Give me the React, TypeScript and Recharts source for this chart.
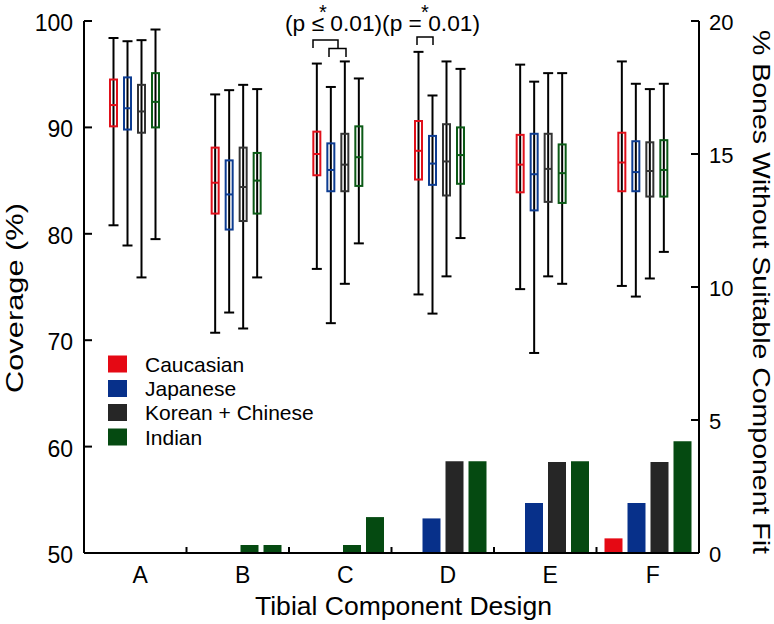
import React from "react";
import { ComposedChart, Bar, XAxis, YAxis, Cell } from "recharts";

const CATEGORIES = ["A", "B", "C", "D", "E", "F"];

// coverage (%) per design: [min, q1, median, q3, max]
const CAUCASIAN_BOX = [
    [80.8, 90.1, 92.1, 94.5, 98.4],
    [70.7, 81.9, 84.8, 88.1, 93.1],
    [76.7, 85.5, 87.5, 89.6, 96.0],
    [74.3, 85.1, 87.8, 90.6, 97.1],
    [74.8, 83.9, 86.5, 89.3, 95.9],
    [75.1, 84.0, 86.7, 89.5, 96.2],
];
const JAPANESE_BOX = [
    [78.9, 89.8, 91.8, 94.7, 98.1],
    [72.6, 80.4, 83.7, 86.9, 93.5],
    [71.6, 84.0, 86.0, 88.5, 93.8],
    [72.5, 84.6, 86.6, 89.2, 93.0],
    [68.8, 82.2, 85.6, 89.4, 94.3],
    [74.1, 84.0, 85.8, 88.7, 94.1],
];
const KOREAN_BOX = [
    [75.9, 89.5, 91.5, 94.0, 98.2],
    [71.1, 81.2, 84.4, 88.1, 94.0],
    [75.3, 84.0, 86.5, 89.4, 96.2],
    [76.0, 83.6, 86.8, 90.3, 96.2],
    [76.0, 83.0, 86.1, 89.4, 95.1],
    [75.8, 83.5, 85.9, 88.6, 93.6],
];
const INDIAN_BOX = [
    [79.5, 90.0, 92.4, 95.1, 99.2],
    [75.9, 81.9, 85.0, 87.6, 93.6],
    [79.1, 84.5, 87.2, 90.1, 94.6],
    [79.6, 84.7, 87.4, 90.0, 95.5],
    [75.3, 82.9, 85.7, 88.4, 95.1],
    [78.3, 83.5, 86.0, 88.8, 94.1],
];

// % bones without suitable component fit
const CAUCASIAN_MISFIT = [0, 0, 0, 0, 0, 0.55];
const JAPANESE_MISFIT = [0, 0, 0, 1.3, 1.88, 1.88];
const KOREAN_MISFIT = [0, 0.3, 0.3, 3.45, 3.42, 3.42];
const INDIAN_MISFIT = [0, 0.3, 1.35, 3.45, 3.45, 4.2];

const COVERAGE_TICKS = [50, 60, 70, 80, 90, 100];
const MISFIT_TICKS = [0, 5, 10, 15, 20];

const FONT = "'Liberation Sans', Arial, sans-serif";

const GROUPS = [
    { key: "cau", name: "Caucasian", box: CAUCASIAN_BOX, misfit: CAUCASIAN_MISFIT, line: "#e0101a", fill: "#e50914" },
    { key: "jap", name: "Japanese", box: JAPANESE_BOX, misfit: JAPANESE_MISFIT, line: "#0d3c91", fill: "#07308a" },
    { key: "kor", name: "Korean + Chinese", box: KOREAN_BOX, misfit: KOREAN_MISFIT, line: "#333333", fill: "#262626" },
    { key: "ind", name: "Indian", box: INDIAN_BOX, misfit: INDIAN_MISFIT, line: "#0b5a16", fill: "#054a11" },
];

// the source figure draws the small Korean + Chinese bars in B and C in green
const KOREAN_BAR_FILLS = ["#262626", "#054a11", "#054a11", "#262626", "#262626", "#262626"];

const data = CATEGORIES.map((cat, i) => {
    const row: any = { cat };
    GROUPS.forEach((g) => {
        row[g.key + "Box"] = g.box[i];
        row[g.key + "Pct"] = g.misfit[i];
    });
    return row;
});

function BoxShape(props: any) {
    const { x, y, width, height, payload, boxKey, color } = props;
    const s = payload[boxKey];
    const top = Math.min(y, y + height);
    const h = Math.abs(height);
    const k = h / (s[4] - s[0]);
    const py = (v: number) => top + (s[4] - v) * k;
    const cx = x + width / 2;
    const cap = 5;
    return (
        <g>
            <line x1={cx} x2={cx} y1={py(s[4])} y2={py(s[0])} stroke="#000" strokeWidth={2} />
            <line x1={cx - cap} x2={cx + cap} y1={py(s[4])} y2={py(s[4])} stroke="#000" strokeWidth={2} />
            <line x1={cx - cap} x2={cx + cap} y1={py(s[0])} y2={py(s[0])} stroke="#000" strokeWidth={2} />
            <rect x={x + 1} y={py(s[3])} width={width - 2} height={py(s[1]) - py(s[3])} fill="none" stroke={color} strokeWidth={2} />
            <line x1={x + 1} x2={x + width - 1} y1={py(s[2])} y2={py(s[2])} stroke={color} strokeWidth={2} />
        </g>
    );
}

function LeftTick({ x, y, payload }: any) {
    return (
        <g>
            <line x1={x} x2={x + 8} y1={y} y2={y} stroke="#000" strokeWidth={2} />
            <text x={x - 11} y={y} dy={10} textAnchor="end" fontSize={23} fontFamily={FONT} fill="#000">
                {payload.value}
            </text>
        </g>
    );
}

function RightTick({ x, y, payload }: any) {
    return (
        <g>
            <line x1={x - 8} x2={x} y1={y} y2={y} stroke="#000" strokeWidth={2} />
            <text x={x + 10} y={y} dy={9} textAnchor="start" fontSize={22} fontFamily={FONT} fill="#000">
                {payload.value}
            </text>
        </g>
    );
}

function BottomTick({ x, y, payload, index }: any) {
    const half = payload && payload.offset ? payload.offset : 0;
    return (
        <g>
            {index < CATEGORIES.length - 1 && half > 0 && (
                <line x1={x + half} x2={x + half} y1={y} y2={y - 6} stroke="#000" strokeWidth={2} />
            )}
            <text x={x + 5} y={y} dy={30} textAnchor="middle" fontSize={23} fontFamily={FONT} fill="#000">
                {payload.value}
            </text>
        </g>
    );
}

const LEGEND_ROWS = [364, 388.5, 412.5, 437];

export default function App() {
    return (
        <div style={{ position: "absolute", left: 0, top: 0, width: 774, height: 624, background: "#fff", fontFamily: FONT }}>
            <ComposedChart
                width={774}
                height={624}
                data={data}
                margin={{ top: 21, right: 0, bottom: 0, left: 0 }}
                barGap={5}
            >
                <XAxis xAxisId="box" dataKey="cat" hide orientation="top" height={0} padding={{ left: 0, right: 5 }} />
                <XAxis
                    xAxisId="pct"
                    dataKey="cat"
                    height={71}
                    interval={0}
                    axisLine={{ stroke: "#000", strokeWidth: 2 }}
                    tickLine={false}
                    tickSize={0}
                    tickMargin={0}
                    tick={(p: any) => <BottomTick {...p} />}
                />
                <YAxis
                    yAxisId="cov"
                    orientation="left"
                    domain={[50, 100]}
                    ticks={COVERAGE_TICKS}
                    interval={0}
                    width={84}
                    axisLine={{ stroke: "#000", strokeWidth: 2 }}
                    tickLine={false}
                    tickSize={0}
                    tickMargin={0}
                    tick={(p: any) => <LeftTick {...p} />}
                />
                <YAxis
                    yAxisId="pct"
                    orientation="right"
                    domain={[0, 20]}
                    ticks={MISFIT_TICKS}
                    interval={0}
                    width={75}
                    axisLine={{ stroke: "#000", strokeWidth: 2 }}
                    tickLine={false}
                    tickSize={0}
                    tickMargin={0}
                    tick={(p: any) => <RightTick {...p} />}
                />
                {GROUPS.map((g) => (
                    <Bar
                        key={g.key + "Pct"}
                        xAxisId="pct"
                        yAxisId="pct"
                        dataKey={g.key + "Pct"}
                        name={g.name}
                        barSize={18}
                        fill={g.fill}
                        isAnimationActive={false}
                    >
                        {g.key === "kor" && data.map((_, i) => <Cell key={i} fill={KOREAN_BAR_FILLS[i]} />)}
                    </Bar>
                ))}
                {GROUPS.map((g) => (
                    <Bar
                        key={g.key + "Box"}
                        xAxisId="box"
                        yAxisId="cov"
                        dataKey={(d: any) => [d[g.key + "Box"][0], d[g.key + "Box"][4]]}
                        barSize={9}
                        legendType="none"
                        isAnimationActive={false}
                        shape={(p: any) => <BoxShape {...p} boxKey={g.key + "Box"} color={g.line} />}
                    />
                ))}
            </ComposedChart>

            <svg width={774} height={624} style={{ position: "absolute", left: 0, top: 0, pointerEvents: "none" }}>
                <text
                    transform="translate(23, 298) rotate(-90)"
                    textAnchor="middle"
                    fontSize={24}
                    fontFamily={FONT}
                    textLength={190}
                    lengthAdjust="spacingAndGlyphs"
                >
                    Coverage (%)
                </text>
                <text
                    transform="translate(753, 292) rotate(90)"
                    textAnchor="middle"
                    fontSize={24}
                    fontFamily={FONT}
                    textLength={524}
                    lengthAdjust="spacingAndGlyphs"
                >
                    % Bones Without Suitable Component Fit
                </text>
                <text
                    x={403.5}
                    y={615}
                    textAnchor="middle"
                    fontSize={25}
                    fontFamily={FONT}
                    textLength={297}
                    lengthAdjust="spacingAndGlyphs"
                >
                    Tibial Component Design
                </text>

                {GROUPS.map((g, i) => (
                    <g key={g.key}>
                        <rect x={108} y={LEGEND_ROWS[i] - 8.5} width={19} height={17} fill={g.fill} />
                        <text x={145} y={LEGEND_ROWS[i] + 7.5} fontSize={21} fontFamily={FONT}>
                            {g.name}
                        </text>
                    </g>
                ))}

                <text x={285} y={31} fontSize={22} fontFamily={FONT} textLength={195} lengthAdjust="spacingAndGlyphs">
                    (p ≤ 0.01)(p = 0.01)
                </text>
                <text x={323} y={19} textAnchor="middle" fontSize={20} fontFamily={FONT}>*</text>
                <text x={425} y={19} textAnchor="middle" fontSize={20} fontFamily={FONT}>*</text>
                <path d="M313,48 V40 H338 V48" fill="none" stroke="#000" strokeWidth={1.5} />
                <path d="M329,57 V48.5 H346 V57" fill="none" stroke="#000" strokeWidth={1.5} />
                <path d="M417,45 V37 H433 V45" fill="none" stroke="#000" strokeWidth={1.5} />
            </svg>
        </div>
    );
}
